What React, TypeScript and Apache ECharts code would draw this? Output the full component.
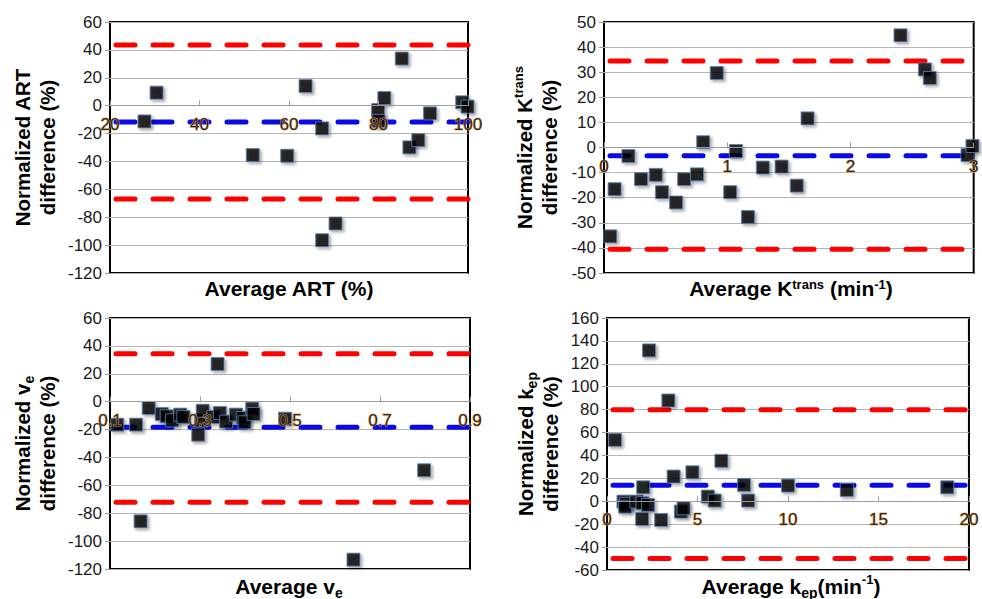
import React, { useEffect, useRef } from 'react';
import * as echarts from 'echarts';

const FONT = "'Liberation Sans', Arial, sans-serif";

// ART panel
const artX = [27.7, 30.4, 51.9, 59.6, 63.7, 67.4, 67.4, 70.4, 79.9, 80.0, 81.3, 85.2, 86.9, 88.9, 91.5, 98.7, 99.9];
const artY = [-11.3, 9.3, -35.4, -35.9, 14.1, -16.3, -96.5, -84.5, -3.1, -11.0, 5.5, 33.8, -29.9, -24.7, -5.5, 2.4, -0.7];
const artMean = -11.8;
const artLimits = [43.5, -67];

// Ktrans panel
const ktX = [0.051, 0.086, 0.198, 0.3, 0.42, 0.47, 0.585, 0.65, 0.755, 0.805, 0.915, 1.024, 1.07, 1.168, 1.289, 1.441, 1.564, 1.652, 2.406, 2.604, 2.644, 2.95, 2.99];
const ktY = [-35.4, -16.6, -3.4, -12.6, -10.9, -17.8, -21.9, -12.6, -10.7, 2.1, 29.7, -17.8, -1.4, -27.7, -8.0, -7.6, -15.2, 11.6, 44.7, 31.1, 27.7, -3.0, 0.6];
const ktMean = -3.3;
const ktLimits = [34.5, -40.5];

// ve panel
const veX = [0.116, 0.158, 0.168, 0.186, 0.215, 0.226, 0.238, 0.256, 0.263, 0.296, 0.302, 0.306, 0.33, 0.339, 0.344, 0.358, 0.38, 0.395, 0.399, 0.416, 0.419, 0.489, 0.641, 0.798];
const veY = [-16.5, -16.5, -85.8, -4.5, -8.8, -10.5, -13.4, -9.3, -11.0, -23.7, -13.4, -6.5, -11.0, 27.0, -8.1, -14.3, -9.3, -11.7, -14.8, -5.0, -8.8, -12.2, -113.3, -49.2];
const veMean = -18.4;
const veLimits = [34.4, -72.1];

// kep panel
const kepX = [0.44, 0.91, 1.05, 1.0, 1.63, 2.0, 1.96, 2.27, 2.32, 1.94, 2.99, 3.39, 3.68, 4.08, 4.23, 4.72, 5.57, 5.95, 6.32, 7.57, 7.8, 10.0, 13.25, 18.8];
const kepY = [53.6, -0.3, -2.3, -4.7, -0.3, 12.2, -1.7, -3.2, 131.7, -15.4, -16.3, 88.0, 21.6, -9.0, -6.1, 25.3, 4.1, 0.6, 35.3, 14.3, 0.6, 13.7, 9.9, 12.2];
const kepMean = 14;
const kepLimits = [80, -50];

const artTicksX = { min: 20, max: 100, interval: 20 };
const artTicksY = { min: -120, max: 60, interval: 20 };
const ktTicksX = { min: 0, max: 3, interval: 1 };
const ktTicksY = { min: -50, max: 50, interval: 10 };
const veTicksX = { min: 0.1, max: 0.9, interval: 0.2 };
const veTicksY = { min: -120, max: 60, interval: 20 };
const kepTicksX = { min: 0, max: 20, interval: 5 };
const kepTicksY = { min: -60, max: 160, interval: 20 };

const zip = (xs: number[], ys: number[]) => xs.map((x, i) => [x, ys[i]]);

export default function App() {
  const ref = useRef<HTMLDivElement>(null);
  useEffect(() => {
    if (!ref.current) return;
    const chart = echarts.init(ref.current, undefined, { renderer: 'svg' });

    const panels = [
      {
        grid: { left: 110, top: 22, width: 358, height: 251 },
        tx: artTicksX, ty: artTicksY, data: zip(artX, artY), mean: artMean, limits: artLimits,
        yName: 'Normalized ART\ndifference (%)', yGap: 50, dec: 0, size: 13,
      },
      {
        grid: { left: 604, top: 22, width: 375, height: 251 },
        tx: ktTicksX, ty: ktTicksY, data: zip(ktX, ktY), mean: ktMean, limits: ktLimits,
        yName: 'Normalized K{sup|trans}\ndifference (%)', yGap: 42, dec: 0, size: 13,
      },
      {
        grid: { left: 110, top: 318, width: 360, height: 251 },
        tx: veTicksX, ty: veTicksY, data: zip(veX, veY), mean: veMean, limits: veLimits,
        yName: 'Normalized v{sub|e}\ndifference (%)', yGap: 50, dec: 1, size: 13,
      },
      {
        grid: { left: 607, top: 318, width: 367, height: 252 },
        tx: kepTicksX, ty: kepTicksY, data: zip(kepX, kepY), mean: kepMean, limits: kepLimits,
        yName: 'Normalized k{sub|ep}\ndifference (%)', yGap: 44, dec: 0, size: 13,
      },
    ];

    const rich = {
      sup: { fontSize: 13, fontWeight: 'bold', fontFamily: FONT, verticalAlign: 'top', color: '#000' },
      sub: { fontSize: 14, fontWeight: 'bold', fontFamily: FONT, verticalAlign: 'middle', padding: [13, 0, 0, 0], color: '#000' },
    };

    const grids: any[] = [];
    const xAxes: any[] = [];
    const yAxes: any[] = [];
    const series: any[] = [];

    panels.forEach((p, i) => {
      grids.push({ ...p.grid, show: true, borderColor: '#000', borderWidth: 2, backgroundColor: 'transparent', containLabel: false });
      // place the x axis (line + labels) where y = 0 sits on the value scale
      const zeroOffset = -p.grid.height * (0 - p.ty.min) / (p.ty.max - p.ty.min);
      xAxes.push({
        type: 'value', gridIndex: i, ...p.tx, z: 5, position: 'bottom', offset: zeroOffset,
        axisLine: { show: true, onZero: false, lineStyle: { color: '#9a9a9a', width: 1 } },
        axisTick: { show: true, inside: true, length: 5, lineStyle: { color: '#9a9a9a' } },
        splitLine: { show: false },
        axisLabel: {
          show: true, showMinLabel: true, showMaxLabel: true, margin: 10, hideOverlap: false,
          fontSize: 17, fontFamily: FONT, color: '#2a2a2a',
          textBorderColor: 'rgba(240,160,60,0.85)', textBorderWidth: 1.2,
          formatter: (v: number) => (p.dec ? v.toFixed(p.dec) : String(Math.round(v))),
        },
      });
      yAxes.push({
        type: 'value', gridIndex: i, ...p.ty,
        axisLine: { show: false, onZero: false },
        axisTick: { show: true, inside: false, length: 5, lineStyle: { color: '#9a9a9a' } },
        splitLine: { show: true, lineStyle: { color: '#b4b4b4', width: 1 } },
        axisLabel: { fontSize: 17, fontFamily: FONT, color: '#1a1a1a', margin: 8 },
        name: p.yName, nameLocation: 'middle', nameGap: p.yGap, nameRotate: 90,
        nameTextStyle: { fontSize: 20.5, fontWeight: 'bold', fontFamily: FONT, color: '#000', lineHeight: 25, rich },
      });
      const x0 = p.tx.min, x1 = p.tx.max;
      const lineOf = (v: number, color: string) => ({
        type: 'line', xAxisIndex: i, yAxisIndex: i, data: [[x0, v], [x1, v]], z: 1,
        symbol: 'none', silent: true,
        lineStyle: { color, width: 5, type: [19, 18], cap: 'round', dashOffset: -6 },
      });
      p.limits.forEach((v) => series.push(lineOf(v, '#ff0000')));
      series.push(lineOf(p.mean, '#0a0ae6'));
      series.push({
        type: 'scatter', xAxisIndex: i, yAxisIndex: i, data: p.data, z: 3,
        symbol: 'rect', symbolSize: p.size,
        itemStyle: {
          color: '#000', borderColor: '#5a82b8', borderWidth: 1,
          shadowBlur: 3, shadowColor: 'rgba(0,0,0,0.4)', shadowOffsetX: 2, shadowOffsetY: 2,
        },
      });
    });

    const titleStyle = (text: string, x: number, y: number) => ({
      type: 'text', x, y, z: 10,
      style: {
        text, x: 0, y: 0, align: 'center', verticalAlign: 'middle',
        fontSize: 21, fontWeight: 'bold', fontFamily: FONT, fill: '#000', rich,
      },
    });

    chart.setOption({
      animation: false,
      backgroundColor: '#fff',
      grid: grids,
      xAxis: xAxes,
      yAxis: yAxes,
      series,
      graphic: [
        titleStyle('Average ART (%)', 289, 288),
        titleStyle('Average K{sup|trans} (min{sup|-1})', 791, 288),
        titleStyle('Average v{sub|e}', 289, 586),
        titleStyle('Average k{sub|ep}(min{sup|-1})', 791, 586),
      ],
    });
    return () => chart.dispose();
  }, []);
  return <div ref={ref} style={{ position: 'fixed', left: 0, top: 0, width: 982, height: 599 }} />;
}
